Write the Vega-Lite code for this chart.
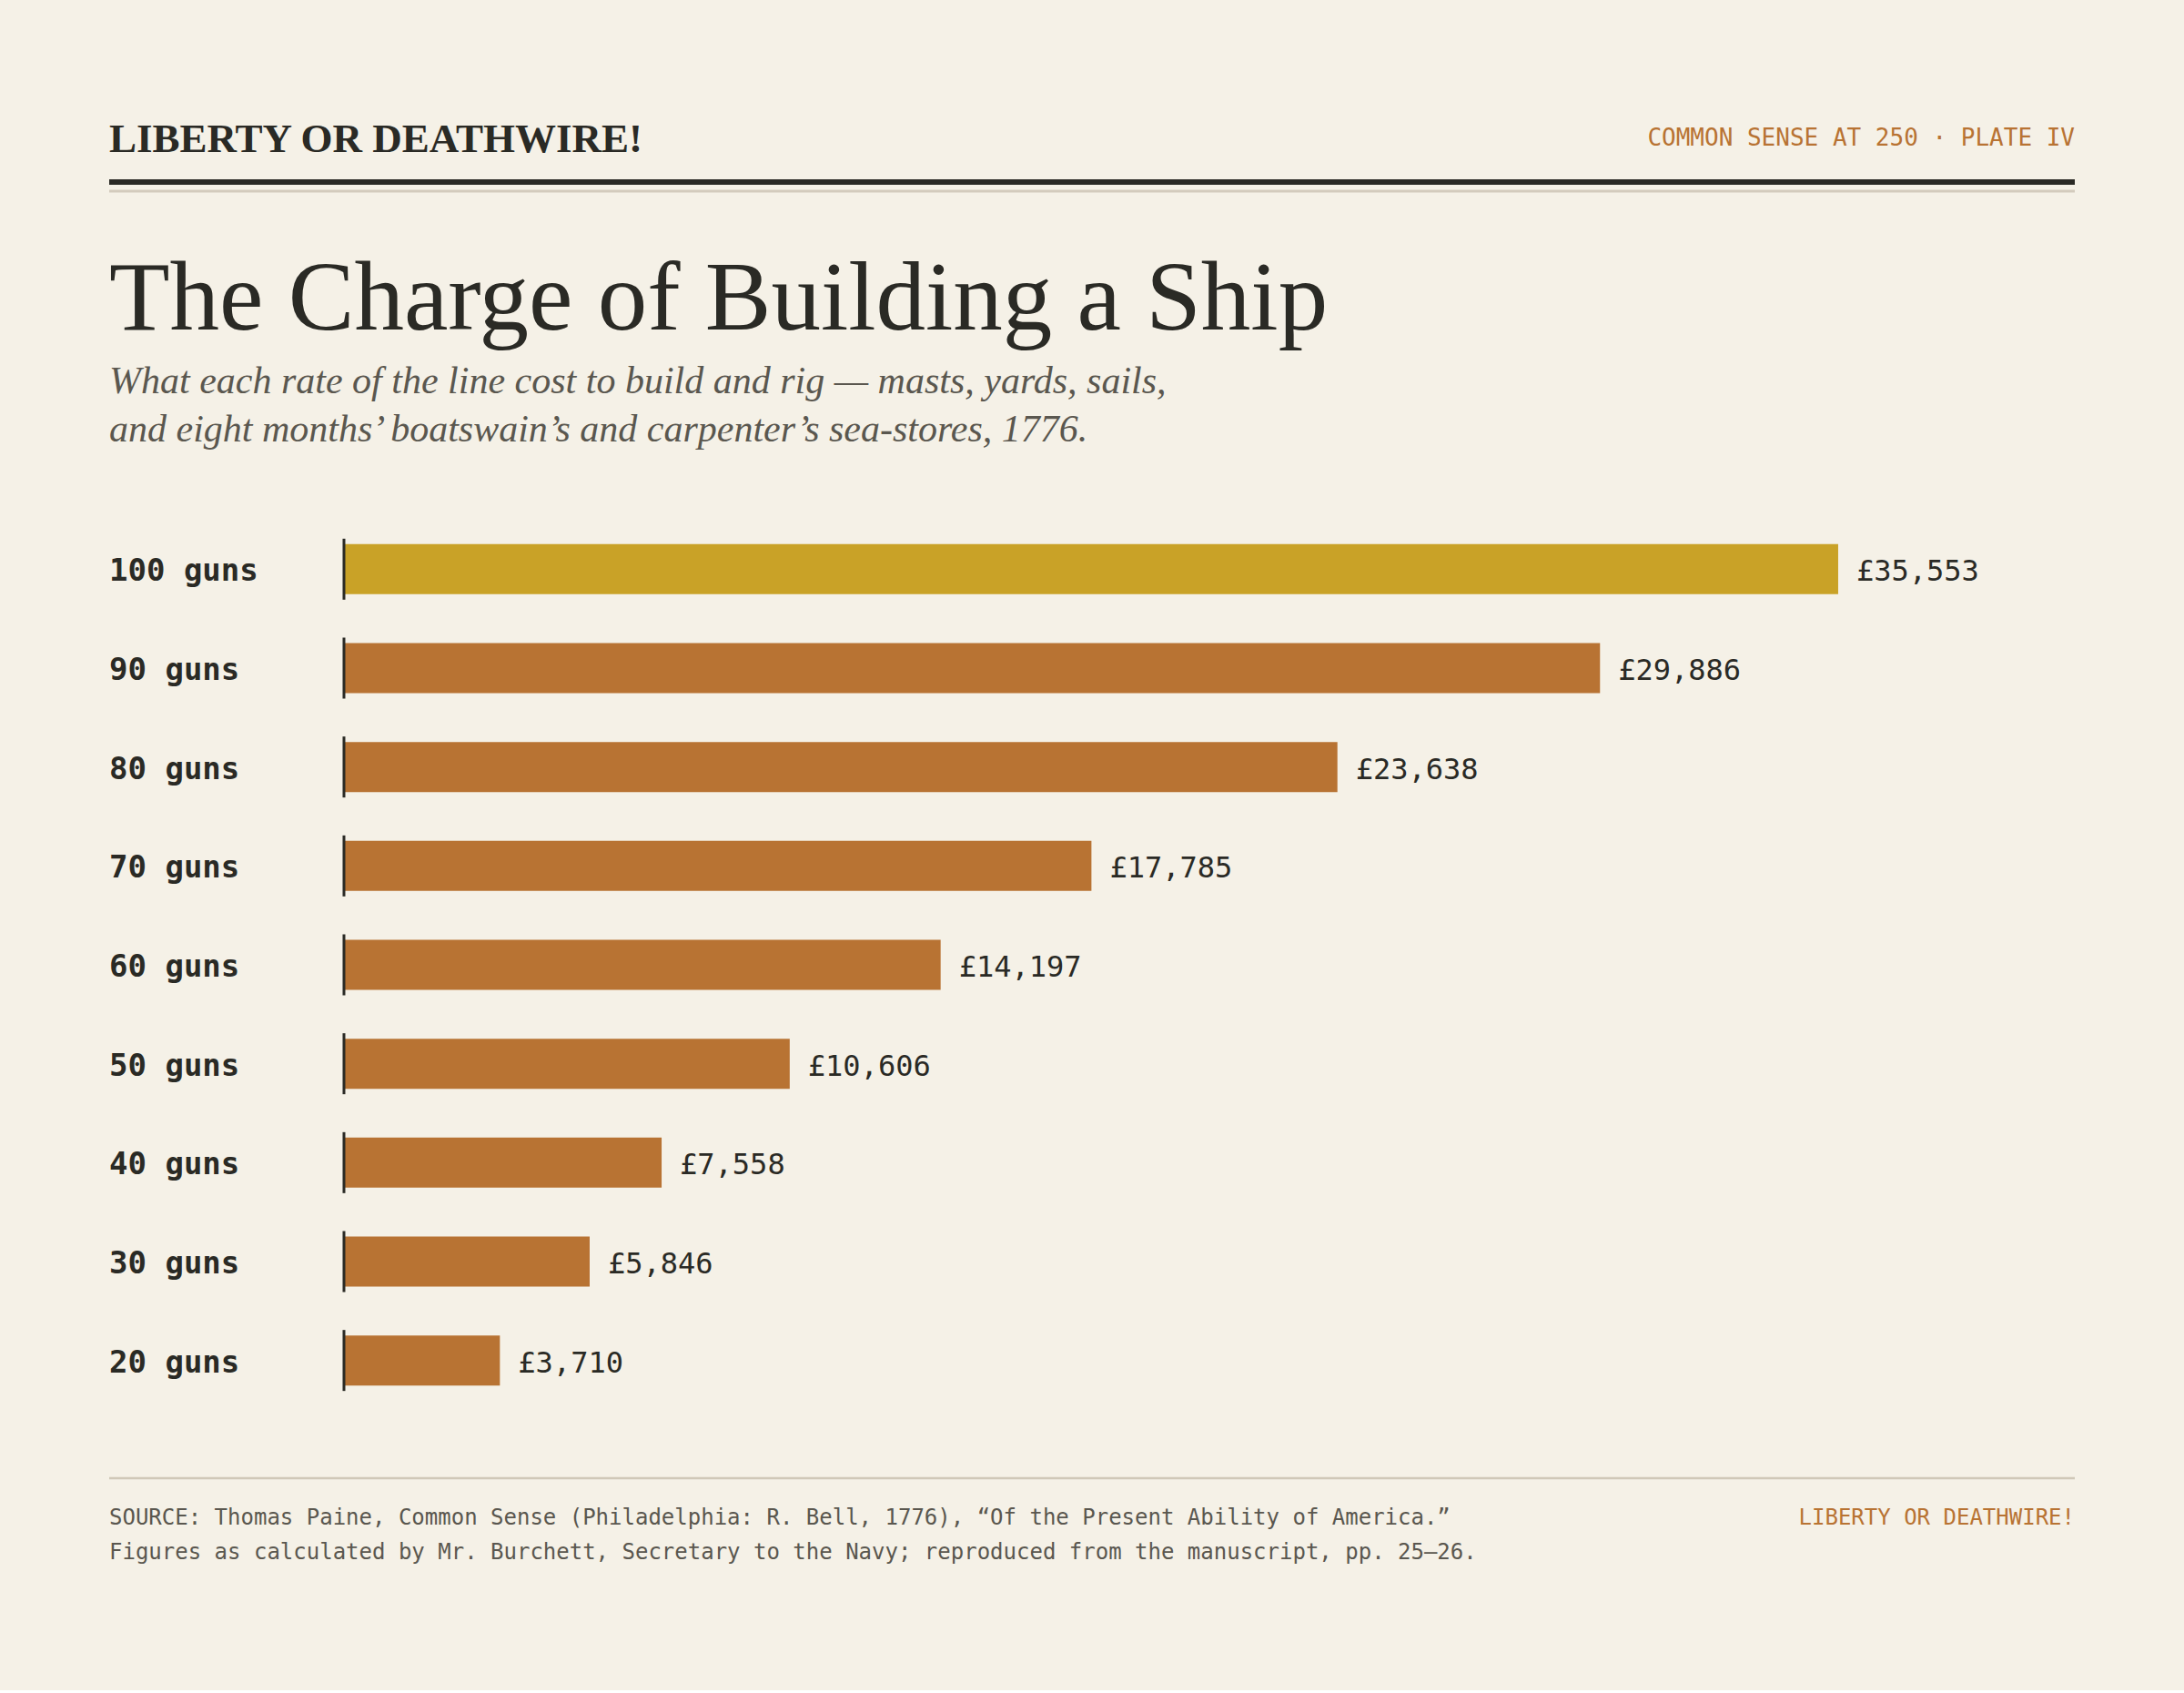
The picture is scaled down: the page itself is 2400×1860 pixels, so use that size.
{
  "$schema": "https://vega.github.io/schema/vega-lite/v6.json",
  "autosize": {"type": "pad"},
  "padding": {"left": 117, "top": 100, "right": 117, "bottom": 108},
  "background": "#f5f1e7",
  "spacing": 0,
  "config": {
    "view": {"stroke": null},
    "font": "DejaVu Sans Mono",
    "locale": {"number": {"decimal": ".", "thousands": ",", "grouping": [3], "currency": ["£", ""]}}
  },
  "vconcat": [
    {
      "width": 2160,
      "height": 471,
      "data": {"values": [{}]},
      "layer": [
        {
          "mark": {"type": "text", "text": "LIBERTY OR DEATHWIRE!", "font": "Liberation Serif", "fontWeight": "bold", "fontSize": 45, "align": "left", "baseline": "alphabetic", "color": "#2a2a25"},
          "encoding": {
            "x": {"datum": 0, "type": "quantitative", "scale": {"domain": [0, 1], "nice": false}, "axis": null},
            "y": {"datum": 67, "type": "quantitative", "scale": {"domain": [0, 471], "nice": false, "reverse": true}, "axis": null}
          }
        },
        {
          "mark": {"type": "text", "text": "COMMON SENSE AT 250 · PLATE IV", "font": "DejaVu Sans Mono", "fontSize": 26, "align": "right", "baseline": "alphabetic", "color": "#b87333"},
          "encoding": {
            "x": {"datum": 1, "type": "quantitative"},
            "y": {"datum": 60, "type": "quantitative"}
          }
        },
        {
          "mark": {"type": "rule", "strokeWidth": 6, "color": "#2a2a25"},
          "encoding": {
            "x": {"datum": 0, "type": "quantitative"},
            "x2": {"datum": 1},
            "y": {"datum": 100, "type": "quantitative"}
          }
        },
        {
          "mark": {"type": "rule", "strokeWidth": 3, "color": "#d3cbbd"},
          "encoding": {
            "x": {"datum": 0, "type": "quantitative"},
            "x2": {"datum": 1},
            "y": {"datum": 110, "type": "quantitative"}
          }
        },
        {
          "mark": {"type": "text", "text": "The Charge of Building a Ship", "font": "Liberation Serif", "fontSize": 109, "align": "left", "baseline": "alphabetic", "color": "#2a2a25"},
          "encoding": {
            "x": {"datum": 0, "type": "quantitative"},
            "y": {"datum": 262, "type": "quantitative"}
          }
        },
        {
          "mark": {"type": "text", "text": "What each rate of the line cost to build and rig — masts, yards, sails,", "font": "Liberation Serif", "fontStyle": "italic", "fontSize": 42, "align": "left", "baseline": "alphabetic", "color": "#5a574f"},
          "encoding": {
            "x": {"datum": 0, "type": "quantitative"},
            "y": {"datum": 332, "type": "quantitative"}
          }
        },
        {
          "mark": {"type": "text", "text": "and eight months’ boatswain’s and carpenter’s sea-stores, 1776.", "font": "Liberation Serif", "fontStyle": "italic", "fontSize": 42, "align": "left", "baseline": "alphabetic", "color": "#5a574f"},
          "encoding": {
            "x": {"datum": 0, "type": "quantitative"},
            "y": {"datum": 385, "type": "quantitative"}
          }
        }
      ]
    },
    {
      "width": 2160,
      "height": 978,
      "data": {
        "values": [
          {"rate": "100 guns", "cost": 35553},
          {"rate": "90 guns", "cost": 29886},
          {"rate": "80 guns", "cost": 23638},
          {"rate": "70 guns", "cost": 17785},
          {"rate": "60 guns", "cost": 14197},
          {"rate": "50 guns", "cost": 10606},
          {"rate": "40 guns", "cost": 7558},
          {"rate": "30 guns", "cost": 5846},
          {"rate": "20 guns", "cost": 3710}
        ]
      },
      "encoding": {
        "y": {"field": "rate", "type": "nominal", "sort": null, "scale": {"paddingInner": 0.494, "paddingOuter": 0.247}, "axis": null}
      },
      "layer": [
        {
          "mark": {"type": "bar"},
          "encoding": {
            "x": {"field": "cost", "type": "quantitative", "scale": {"domain": [-5586, 41183], "nice": false, "zero": false}, "axis": null},
            "x2": {"datum": 0},
            "color": {"condition": {"test": "datum.rate === '100 guns'", "value": "#c9a227"}, "value": "#b87333"}
          }
        },
        {
          "mark": {"type": "tick", "orient": "vertical", "size": 67, "thickness": 3, "color": "#2a2a25", "opacity": 1},
          "encoding": {
            "x": {"datum": 0, "type": "quantitative"}
          }
        },
        {
          "mark": {"type": "text", "align": "left", "baseline": "middle", "dx": 20, "dy": 3, "fontSize": 32, "color": "#2a2a25"},
          "encoding": {
            "x": {"field": "cost", "type": "quantitative"},
            "text": {"field": "cost", "type": "quantitative", "format": "$,"}
          }
        },
        {
          "mark": {"type": "text", "align": "left", "baseline": "middle", "dy": 3, "fontSize": 34, "fontWeight": "bold", "color": "#2a2a25"},
          "encoding": {
            "x": {"datum": -5586, "type": "quantitative"},
            "text": {"field": "rate", "type": "nominal"}
          }
        }
      ]
    },
    {
      "width": 2160,
      "height": 200,
      "data": {"values": [{}]},
      "layer": [
        {
          "mark": {"type": "rule", "strokeWidth": 2.5, "color": "#d0c8b8"},
          "encoding": {
            "x": {"datum": 0, "type": "quantitative", "scale": {"domain": [0, 1], "nice": false}, "axis": null},
            "x2": {"datum": 1},
            "y": {"datum": 75, "type": "quantitative", "scale": {"domain": [0, 200], "nice": false, "reverse": true}, "axis": null}
          }
        },
        {
          "mark": {"type": "text", "text": "SOURCE: Thomas Paine, Common Sense (Philadelphia: R. Bell, 1776), “Of the Present Ability of America.”", "fontSize": 24, "align": "left", "baseline": "alphabetic", "color": "#5a574f"},
          "encoding": {
            "x": {"datum": 0, "type": "quantitative"},
            "y": {"datum": 126, "type": "quantitative"}
          }
        },
        {
          "mark": {"type": "text", "text": "Figures as calculated by Mr. Burchett, Secretary to the Navy; reproduced from the manuscript, pp. 25–26.", "fontSize": 24, "align": "left", "baseline": "alphabetic", "color": "#5a574f"},
          "encoding": {
            "x": {"datum": 0, "type": "quantitative"},
            "y": {"datum": 164, "type": "quantitative"}
          }
        },
        {
          "mark": {"type": "text", "text": "LIBERTY OR DEATHWIRE!", "fontSize": 24, "align": "right", "baseline": "alphabetic", "color": "#b87333"},
          "encoding": {
            "x": {"datum": 1, "type": "quantitative"},
            "y": {"datum": 126, "type": "quantitative"}
          }
        }
      ]
    }
  ]
}
